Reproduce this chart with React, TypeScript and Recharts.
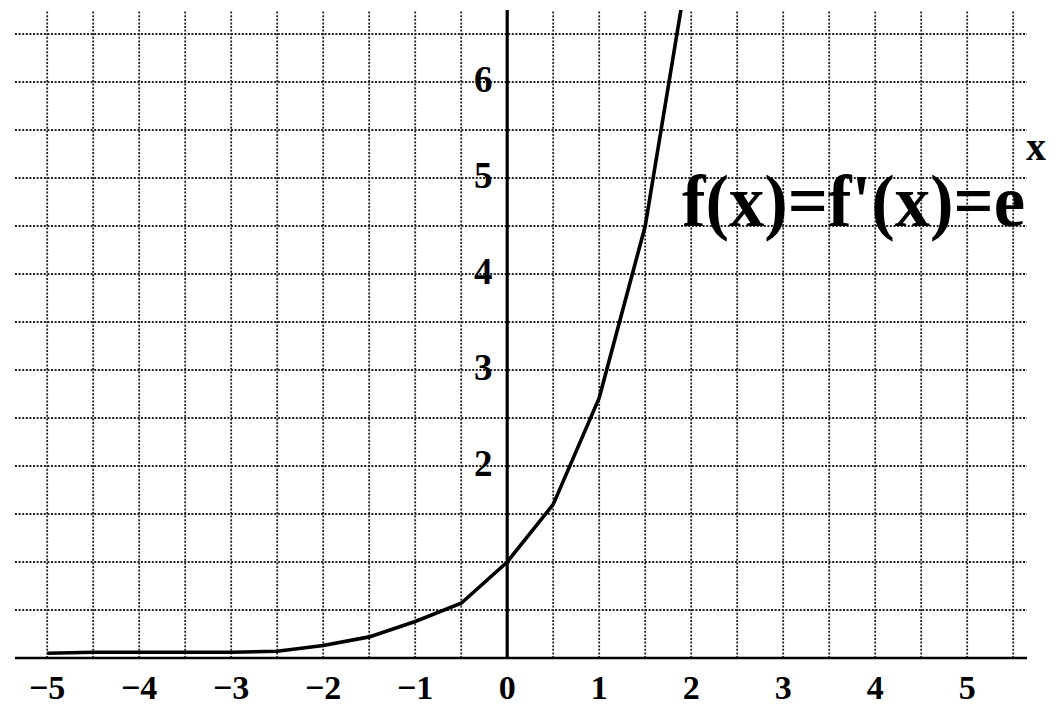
import { LineChart, Line, XAxis, YAxis, ReferenceLine, ReferenceDot } from "recharts";

const xValues = [-5, -4.5, -4, -3.5, -3, -2.5, -2, -1.5, -1, -0.5, 0, 0.5, 1, 1.5, 2];
const yValues = [0.05, 0.06, 0.06, 0.06, 0.06, 0.07, 0.13, 0.22, 0.38, 0.57, 1, 1.6, 2.71, 4.5, 7.4];
const xTicks = [-5, -4, -3, -2, -1, 0, 1, 2, 3, 4, 5];
const yLabels = [2, 3, 4, 5, 6];
const gridX = [-5, -4.5, -4, -3.5, -3, -2.5, -2, -1.5, -1, -0.5, 0.5, 1, 1.5, 2, 2.5, 3, 3.5, 4, 4.5, 5, 5.5];
const gridY = [0.5, 1, 1.5, 2, 2.5, 3, 3.5, 4, 4.5, 5, 5.5, 6, 6.5];

const data = xValues.map((x, i) => ({ x, y: yValues[i] }));

const FONT = "'Liberation Serif', 'Times New Roman', serif";
const gridStyle = { stroke: "#222", strokeWidth: 1.8, strokeDasharray: "2 1.6" };

function XTick(props: any) {
  const { x, payload } = props;
  const v = payload.value;
  const label = v < 0 ? `\u2212${Math.abs(v)}` : `${v}`;
  return (
    <text x={x} y={699} textAnchor="middle" fontFamily={FONT} fontWeight="bold" fontSize={34} fill="#000">
      {label}
    </text>
  );
}

function YLabel(props: any) {
  const { viewBox, value } = props;
  return (
    <text x={viewBox.x - 24} y={viewBox.y + 10} textAnchor="middle" fontFamily={FONT} fontWeight="bold" fontSize={37} fill="#000">
      {value}
    </text>
  );
}

export default function App() {
  return (
    <div style={{ position: "absolute", left: 0, top: 0, width: 1059, height: 705, background: "#fff" }}>
      <LineChart width={1059} height={705} data={data} margin={{ top: 10, right: 32, left: 15, bottom: 0 }}>
        <XAxis
          dataKey="x"
          type="number"
          domain={[-5.35, 5.65]}
          ticks={xTicks}
          tick={<XTick />}
          tickLine={false}
          axisLine={{ stroke: "#000", strokeWidth: 2.5 }}
          height={47}
        />
        <YAxis type="number" domain={[0, 6.75]} allowDataOverflow hide />
        {gridY.map((v) => (
          <ReferenceLine key={`gy${v}`} y={v} {...gridStyle} />
        ))}
        {gridX.map((v) => (
          <ReferenceLine key={`gx${v}`} x={v} {...gridStyle} />
        ))}
        <ReferenceLine x={0} stroke="#000" strokeWidth={3.2} />
        {yLabels.map((v) => (
          <ReferenceDot
            key={`yl${v}`}
            x={0}
            y={v}
            r={0}
            fill="none"
            stroke="none"
            label={(p: any) => <YLabel {...p} value={v} />}
          />
        ))}
        <Line
          dataKey="y"
          type="linear"
          stroke="#000"
          strokeWidth={3.6}
          dot={false}
          isAnimationActive={false}
        />
      </LineChart>
      <svg
        width={1059}
        height={705}
        style={{ position: "absolute", left: 0, top: 0, pointerEvents: "none" }}
      >
        <text
          x={682}
          y={226}
          fontFamily={FONT}
          fontWeight="bold"
          fontSize={74}
          fill="#000"
          textLength={343}
          lengthAdjust="spacingAndGlyphs"
        >
          f(x)=f'(x)=e
        </text>
        <text x={1026} y={160} fontFamily={FONT} fontWeight="bold" fontSize={40} fill="#000">
          x
        </text>
      </svg>
    </div>
  );
}
